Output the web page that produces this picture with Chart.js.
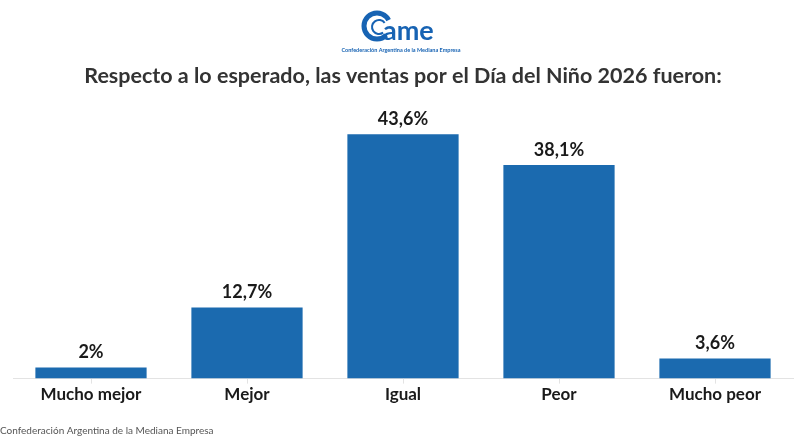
<!DOCTYPE html>
<html>
<head>
<meta charset="utf-8">
<script src="https://cdn.jsdelivr.net/npm/chart.js@4/dist/chart.umd.min.js"></script>
<style>
  html, body { margin: 0; padding: 0; background: #fff; }
  #wrap { position: relative; width: 800px; height: 445px; }
</style>
</head>
<body>
<div id="wrap"><canvas id="ventas"></canvas></div>
<script>
const categorias = ['Mucho mejor', 'Mejor', 'Igual', 'Peor', 'Mucho peor'];
const valores = [2, 12.7, 43.6, 38.1, 3.6];
const titulo = 'Respecto a lo esperado, las ventas por el Día del Niño 2026 fueron:';
const fuente = 'Confederación Argentina de la Mediana Empresa';

const azul = 'rgb(27,106,175)';

// etiquetas encima de cada barra (sin plugin externo)
const etiquetas = {
  id: 'etiquetas',
  afterDatasetsDraw(chart) {
    const ctx = chart.ctx;
    const meta = chart.getDatasetMeta(0);
    ctx.save();
    ctx.font = 'bold 18px Lato';
    ctx.fillStyle = '#1a1a1a';
    ctx.textAlign = 'center';
    ctx.textBaseline = 'bottom';
    meta.data.forEach((bar, i) => {
      const txt = valores[i].toLocaleString('es-AR') + '%';
      ctx.fillText(txt, bar.x, bar.y - 6);
    });
    ctx.restore();
  }
};

// logo y fuente
const marco = {
  id: 'marco',
  afterDraw(chart) {
    const ctx = chart.ctx;
    ctx.save();
    ctx.strokeStyle = '#1763b3';
    ctx.lineWidth = 5;
    ctx.beginPath();
    ctx.arc(377, 26, 13, Math.PI * 0.25, Math.PI * 1.85);
    ctx.stroke();
    ctx.lineWidth = 2;
    ctx.beginPath();
    ctx.arc(379, 27, 7, Math.PI * 0.3, Math.PI * 1.8);
    ctx.stroke();
    ctx.fillStyle = '#1763b3';
    ctx.font = 'bold 27px Lato';
    ctx.textAlign = 'left';
    ctx.textBaseline = 'alphabetic';
    ctx.fillText('ame', 383, 40);
    ctx.font = 'bold 5.5px Lato';
    ctx.textAlign = 'center';
    ctx.fillText(fuente, 401, 52);

    ctx.fillStyle = '#555';
    ctx.font = '10px Lato';
    ctx.textAlign = 'left';
    ctx.fillText(fuente, 0, 434);
    ctx.restore();
  }
};

new Chart(document.getElementById('ventas'), {
  type: 'bar',
  data: {
    labels: categorias,
    datasets: [{
      data: valores,
      backgroundColor: azul,
      categoryPercentage: 1,
      barPercentage: 0.713
    }]
  },
  plugins: [etiquetas, marco],
  options: {
    responsive: true,
    maintainAspectRatio: false,
    animation: false,
    layout: { padding: { left: 13, right: 7, top: 0, bottom: 39 } },
    scales: {
      x: {
        grid: {
          offset: false,
          drawOnChartArea: false,
          tickLength: 5,
          color: '#e3e3e3'
        },
        border: { color: '#e3e3e3' },
        ticks: {
          padding: 1,
          color: '#1a1a1a',
          font: { family: 'Lato', size: 17, weight: 'bold' }
        }
      },
      y: {
        display: false,
        min: 0,
        max: 46.7
      }
    },
    plugins: {
      legend: { display: false },
      tooltip: { enabled: false },
      title: {
        display: true,
        text: titulo,
        color: '#333',
        font: { family: 'Lato', size: 21.5, weight: 'bold' },
        padding: { top: 63, bottom: 28 }
      }
    }
  }
});
</script>
</body>
</html>
